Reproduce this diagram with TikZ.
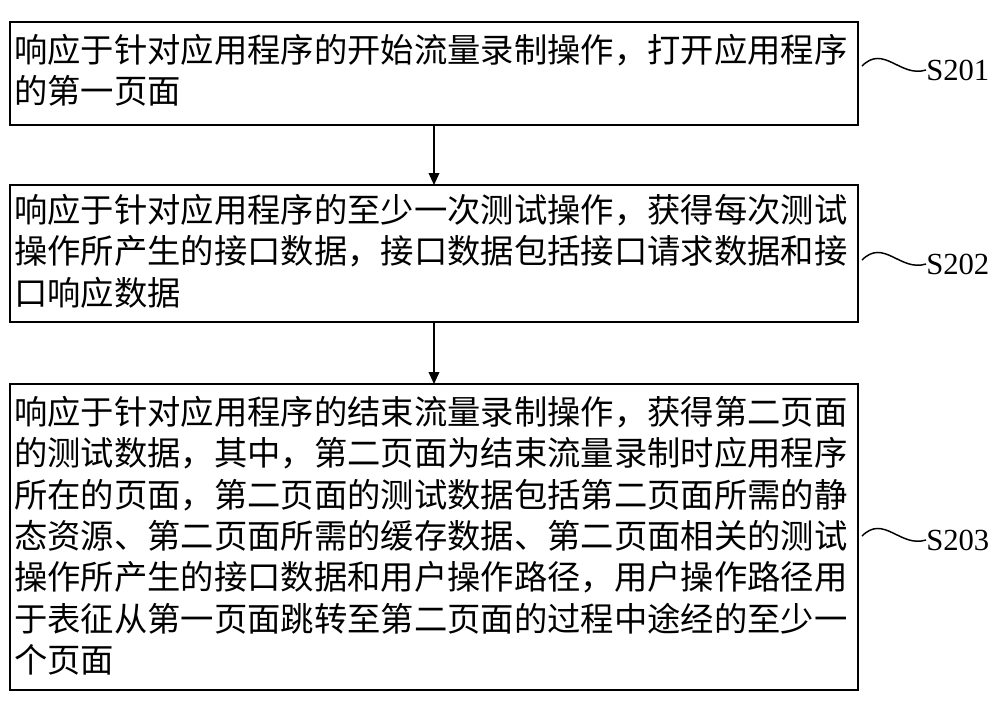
\documentclass[tikz,border=0pt]{standalone}
\usepackage{fontspec}
\setmainfont{Liberation Serif}
\newfontfamily\cjk{Noto Sans CJK SC}
\usetikzlibrary{arrows.meta}
\begin{document}
\begin{tikzpicture}[x=0.75pt,y=-0.75pt,
  box/.style={draw,line width=1.6pt,inner sep=0},
  txt/.style={anchor=north west,align=left,inner sep=0,font=\cjk\fontsize{25pt}{31pt}\selectfont},
  lab/.style={anchor=west,inner sep=0,font=\fontsize{23pt}{26pt}\selectfont},
  arr/.style={-{Triangle[length=9pt,width=8pt]},line width=1.1pt},
  wav/.style={line width=1.1pt}]
\useasboundingbox (0,0) rectangle (1000,704);
\draw[box] (10,22) rectangle (858,125);
\draw[box] (10,185) rectangle (858,322);
\draw[box] (10,384) rectangle (858,690);
\coordinate (b1s) at (434,125); \coordinate (b2n) at (434,185);
\coordinate (b2s) at (434,322); \coordinate (b3n) at (434,384);
\node[txt] (t1) at (14,34) {响应于针对应用程序的开始流量录制操作，打开应用程序\\的第一页面};
\node[txt] (t2) at (14,194) {响应于针对应用程序的至少一次测试操作，获得每次测试\\操作所产生的接口数据，接口数据包括接口请求数据和接\\口响应数据};
\node[txt] (t3) at (14,396) {响应于针对应用程序的结束流量录制操作，获得第二页面\\的测试数据，其中，第二页面为结束流量录制时应用程序\\所在的页面，第二页面的测试数据包括第二页面所需的静\\态资源、第二页面所需的缓存数据、第二页面相关的测试\\操作所产生的接口数据和用户操作路径，用户操作路径用\\于表征从第一页面跳转至第二页面的过程中途经的至少一\\个页面};
\draw[arr] (b1s) -- (b2n);
\draw[arr] (b2s) -- (b3n);
\node[lab] (s1) at (926,70) {S201};
\node[lab] (s2) at (926,264) {S202};
\node[lab] (s3) at (926,540) {S203};
\draw[wav] (862,66) .. controls (884,44) and (900,78) .. (s1.west);
\draw[wav] (862,260) .. controls (884,238) and (900,272) .. (s2.west);
\draw[wav] (862,536) .. controls (884,514) and (900,548) .. (s3.west);
\end{tikzpicture}
\end{document}
